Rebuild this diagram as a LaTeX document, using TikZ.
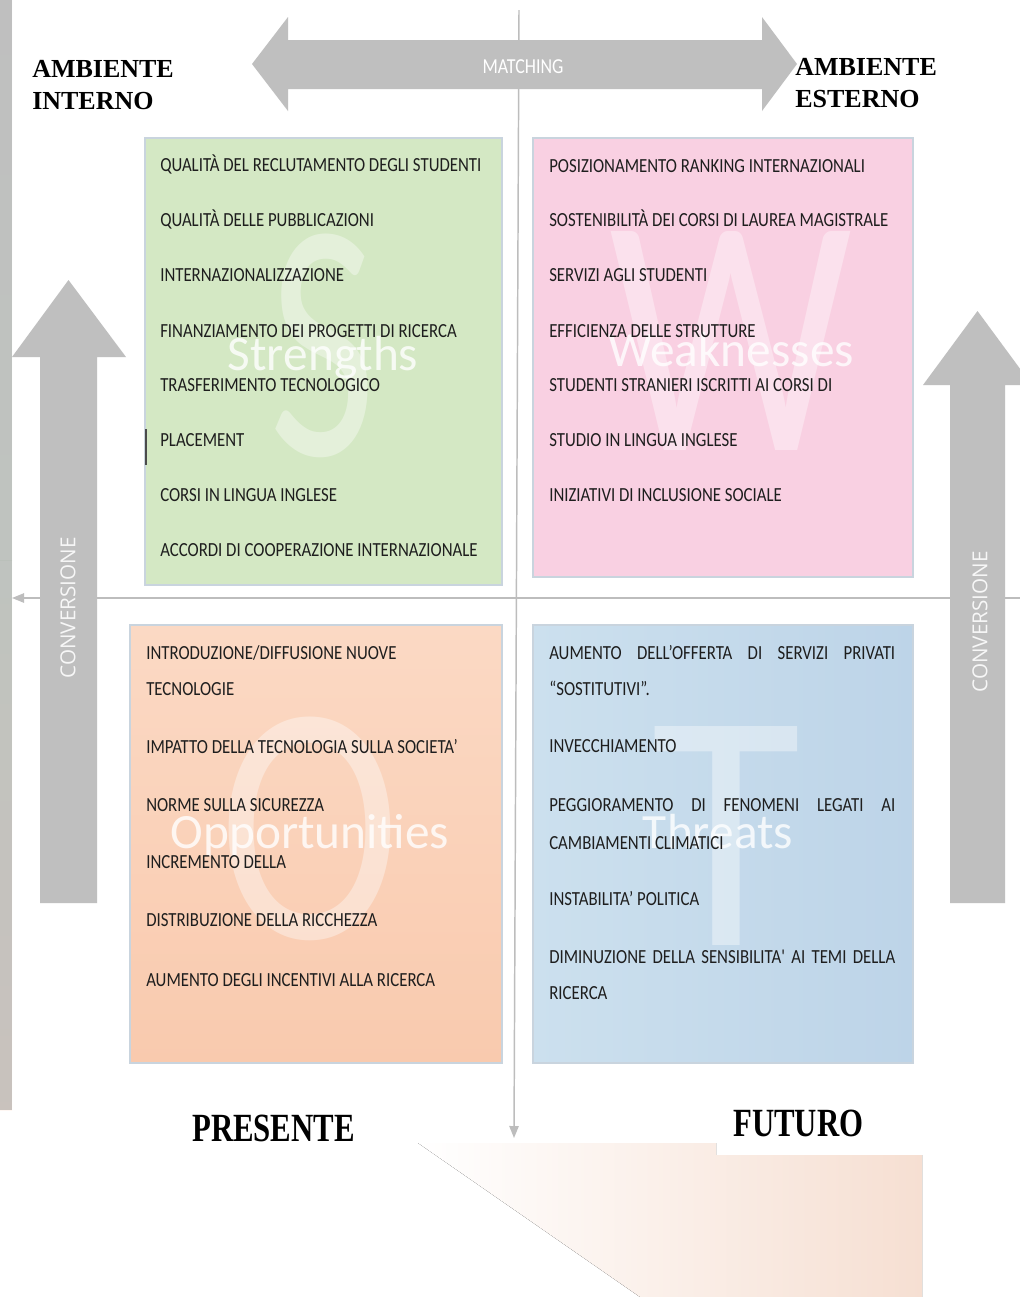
\documentclass[tikz,border=0pt]{standalone}
\usepackage{fontspec}
\setmainfont{Liberation Serif}
\newfontfamily\itemfont[FakeStretch=0.84]{Carlito}
\newfontfamily\wmfont{Carlito}
\newfontfamily\convfont{Open Sans}
\newfontfamily\lblfont{Liberation Serif Bold}
\newfontfamily\bigfont[FakeStretch=0.77]{Liberation Serif Bold}
\usetikzlibrary{arrows.meta}
\definecolor{sgreen}{HTML}{D4E8C4}
\definecolor{wpink}{HTML}{F9D0E2}
\definecolor{oorange}{HTML}{FBD9C4}
\definecolor{oorange2}{HTML}{F9CAAE}
\definecolor{tblue}{HTML}{CCE0EE}
\definecolor{tblue2}{HTML}{BDD4E8}
\definecolor{arrgray}{HTML}{BFBFBF}
\definecolor{linegray}{HTML}{BDBDBD}
\definecolor{txt}{HTML}{1E1E1E}
\definecolor{peach}{HTML}{F6DFD2}
\definecolor{boxedge}{HTML}{C9D4DE}
\begin{document}
\begin{tikzpicture}[x=0.75pt,y=-0.75pt,
  item/.style={anchor=base west, inner sep=0pt, text=txt, font=\itemfont\fontsize{15}{15}\selectfont},
  boxstyle/.style={draw=boxedge, line width=1.2pt},
  axis/.style={draw=linegray, line width=1.1pt},
  bigarrow/.style={fill=arrgray, draw=none},
  wmword/.style={anchor=base, inner sep=0pt, text=white, opacity=0.8, font=\wmfont\fontsize{37}{37}\selectfont},
  wmletter/.style={anchor=base, inner sep=0pt, text=white, opacity=0.38, font=\wmfont\fontsize{256}{256}\selectfont},
  conv/.style={rotate=90, inner sep=0pt, text=white!94!gray, font=\convfont\fontsize{15.5}{15.5}\selectfont},
  toplbl/.style={anchor=base west, inner sep=0pt, font=\lblfont\fontsize{19.5}{19.5}\selectfont},
  botlbl/.style={anchor=base west, inner sep=0pt, font=\bigfont\fontsize{30}{30}\selectfont}]
\useasboundingbox (0,0) rectangle (1020,1297);
\fill[white] (0,0) rectangle (1020,1297);

% faint background remnants
\fill[top color=gray!25, bottom color=green!30!gray!20, opacity=0.3] (0,0) rectangle (12,560);
\fill[top color=green!30!gray!20, bottom color=red!25!orange!15, opacity=0.3] (0,560) rectangle (12,1110);
\fill[left color=white, right color=peach] (418,1143) -- (716,1143) -- (716,1155) -- (922,1155) -- (922,1297) -- (640,1297) -- cycle;

% axes
\coordinate (vtop) at (519,10);
\coordinate (vbot) at (514,1138);
\coordinate (hleft) at (12,598);
\coordinate (hright) at (1020,598);
\draw[axis, -{Triangle[length=9pt,width=7pt]}] (vtop) -- (vbot);
\draw[axis, -{Triangle[length=9pt,width=7pt]}] (hright) -- (hleft);

% quadrant boxes
\draw[boxstyle, fill=sgreen] (145,138) rectangle (502,585);
\draw[boxstyle, fill=wpink] (533,138) rectangle (913,577);
\draw[boxstyle, top color=oorange, bottom color=oorange2] (130,625) rectangle (502,1063);
\draw[boxstyle, left color=tblue, right color=tblue2] (533,625) rectangle (913,1063);

% big grey arrows
\fill[bigarrow] (252,64) -- (288,17) -- (288,40) -- (762,40) -- (762,17) -- (797,64) -- (762,111) -- (762,89) -- (288,89) -- (288,111) -- cycle;
\node[inner sep=0pt, text=white, font=\itemfont\fontsize{16}{16}\selectfont] (matching) at (523,67) {MATCHING};
\fill[bigarrow] (68.5,280) -- (126,357) -- (97,357) -- (97,903) -- (40,903) -- (40,357) -- (12,357) -- cycle;
\node[conv] (convL) at (68,608) {CONVERSIONE};
\fill[bigarrow] (977.5,311) -- (1032,385) -- (1005,385) -- (1005,903) -- (950,903) -- (950,385) -- (923,385) -- cycle;
\node[conv] (convR) at (980,622) {CONVERSIONE};

% watermarks
\node[wmletter] (bigS) at (323,455) {\scalebox{0.68}[1]{S}};
\node[wmletter] (bigW) at (731,450) {\scalebox{0.8}[1]{W}};
\node[wmletter] (bigO) at (310,938) {\scalebox{0.8}[1]{O}};
\node[wmletter] (bigT) at (726,945) {\scalebox{0.9}[1]{T}};
\node[wmword] (wS) at (323,370) {Strengths};
\node[wmword] (wW) at (731,366) {Weaknesses};
\node[wmword] (wO) at (310,848) {Opportunities};
\node[wmword] (wT) at (718,848) {Threats};

% Strengths items
\node[item] (s1) at (160,171) {QUALITÀ DEL RECLUTAMENTO DEGLI STUDENTI};
\node[item] (s2) at (160,226) {QUALITÀ DELLE PUBBLICAZIONI};
\node[item] (s3) at (160,281) {INTERNAZIONALIZZAZIONE};
\node[item] (s4) at (160,337) {FINANZIAMENTO DEI PROGETTI DI RICERCA};
\node[item] (s5) at (160,391) {TRASFERIMENTO TECNOLOGICO};
\node[item] (s6) at (160,446) {PLACEMENT};
\node[item] (s7) at (160,501) {CORSI IN LINGUA INGLESE};
\node[item] (s8) at (160,556) {ACCORDI DI COOPERAZIONE INTERNAZIONALE};
\coordinate (cur1) at (146,429);
\coordinate (cur2) at (146,465);
\draw[txt!80, line width=1.2pt] (cur1) -- (cur2);

% Weaknesses items
\node[item] (w1) at (549,172) {POSIZIONAMENTO RANKING INTERNAZIONALI};
\node[item] (w2) at (549,226) {SOSTENIBILITÀ DEI CORSI DI LAUREA MAGISTRALE};
\node[item] (w3) at (549,281) {SERVIZI AGLI STUDENTI};
\node[item] (w4) at (549,337) {EFFICIENZA DELLE STRUTTURE};
\node[item] (w5) at (549,391) {STUDENTI STRANIERI ISCRITTI AI CORSI DI};
\node[item] (w6) at (549,446) {STUDIO IN LINGUA INGLESE};
\node[item] (w7) at (549,501) {INIZIATIVI DI INCLUSIONE SOCIALE};

% Opportunities items
\node[item] (o1) at (146,659) {INTRODUZIONE/DIFFUSIONE NUOVE};
\node[item] (o2) at (146,695) {TECNOLOGIE};
\node[item] (o3) at (146,753) {IMPATTO DELLA TECNOLOGIA SULLA SOCIETA’};
\node[item] (o4) at (146,811) {NORME SULLA SICUREZZA};
\node[item] (o5) at (146,868) {INCREMENTO DELLA};
\node[item] (o6) at (146,926) {DISTRIBUZIONE DELLA RICCHEZZA};
\node[item] (o7) at (146,986) {AUMENTO DEGLI INCENTIVI ALLA RICERCA};

% Threats items
\node[item] (t1) at (549,659) {\makebox[259.5pt][s]{AUMENTO DELL’OFFERTA DI SERVIZI PRIVATI}};
\node[item] (t2) at (549,695) {“SOSTITUTIVI”.};
\node[item] (t3) at (549,752) {INVECCHIAMENTO};
\node[item] (t4) at (549,811) {\makebox[259.5pt][s]{PEGGIORAMENTO DI FENOMENI LEGATI AI}};
\node[item] (t5) at (549,849) {CAMBIAMENTI CLIMATICI};
\node[item] (t6) at (549,905) {INSTABILITA’ POLITICA};
\node[item] (t7) at (549,963) {\makebox[259.5pt][s]{DIMINUZIONE DELLA SENSIBILITA' AI TEMI DELLA}};
\node[item] (t8) at (549,999) {RICERCA};

% side labels
\node[toplbl] (ai1) at (32,77) {AMBIENTE};
\node[toplbl] (ai2) at (32,109) {INTERNO};
\node[toplbl] (ae1) at (795,75) {AMBIENTE};
\node[toplbl] (ae2) at (795,107) {ESTERNO};
\node[botlbl] (pres) at (192,1141) {PRESENTE};
\node[botlbl] (fut) at (733,1136) {FUTURO};
\end{tikzpicture}
\end{document}
